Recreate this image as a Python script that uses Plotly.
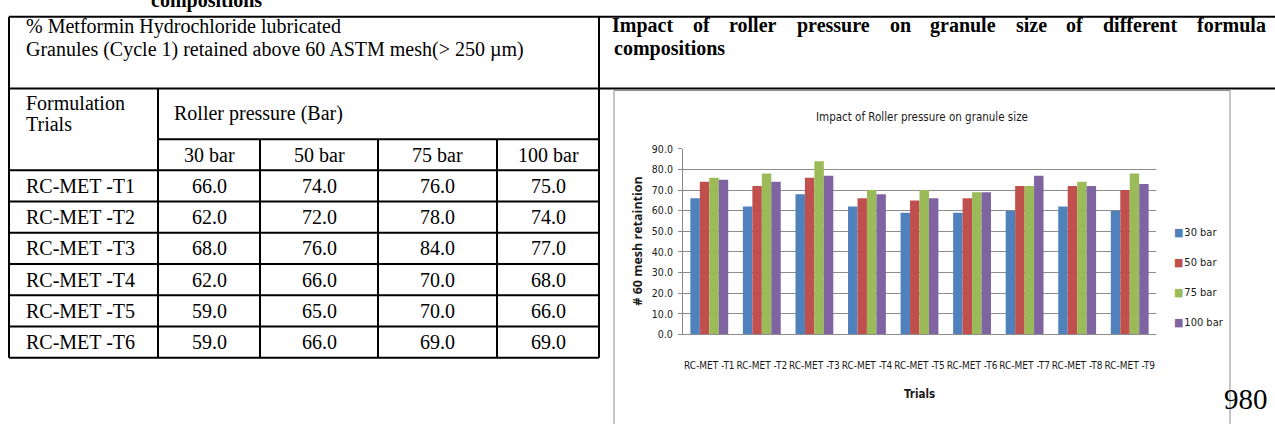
import plotly.graph_objects as go

# ---- data -------------------------------------------------------------
trials = ["RC-MET -T1", "RC-MET -T2", "RC-MET -T3", "RC-MET -T4", "RC-MET -T5",
          "RC-MET -T6", "RC-MET -T7", "RC-MET -T8", "RC-MET -T9"]
pressures = ["30 bar", "50 bar", "75 bar", "100 bar"]
ret_30 = [66.0, 62.0, 68.0, 62.0, 59.0, 59.0, 60.0, 62.0, 60.0]
ret_50 = [74.0, 72.0, 76.0, 66.0, 65.0, 66.0, 72.0, 72.0, 70.0]
ret_75 = [76.0, 78.0, 84.0, 70.0, 70.0, 69.0, 72.0, 74.0, 78.0]
ret_100 = [75.0, 74.0, 77.0, 68.0, 66.0, 69.0, 77.0, 72.0, 73.0]
series = [ret_30, ret_50, ret_75, ret_100]
bar_colors = ["#4F81BD", "#C0504D", "#9BBB59", "#8064A2"]
y_ticks = [0, 10, 20, 30, 40, 50, 60, 70, 80, 90]
table_rows = 6  # trials listed in the side table

W, H = 1275, 425
SERIF = "Liberation Serif, Times New Roman, serif"
NARROW = "DejaVu Sans Condensed, Liberation Sans Narrow, Arial Narrow, sans-serif"


def X(x):
    return x / W


def Y(y):
    return 1 - y / H


shapes = []
annotations = []


def line(x0, y0, x1, y1, color="black", width=2):
    shapes.append(dict(type="line", xref="paper", yref="paper",
                       x0=X(x0), y0=Y(y0), x1=X(x1), y1=Y(y1),
                       line=dict(color=color, width=width)))


def text(x, y, s, size=20, family=SERIF, anchor="left", color="black", bold=False, angle=0):
    if bold:
        s = "<b>" + s + "</b>"
    annotations.append(dict(xref="paper", yref="paper", x=X(x), y=Y(y), text=s,
                            showarrow=False, xanchor=anchor, yanchor="middle",
                            textangle=angle,
                            font=dict(family=family, size=size, color=color)))


# ---- page table frame --------------------------------------------------
TOP, HEAD, BOT = 11, 85, 362
LEFT, MID = 9, 599
line(LEFT, TOP, W + 5, TOP)
line(LEFT, HEAD, W + 5, HEAD)
line(LEFT, TOP, LEFT, BOT)
line(MID, TOP, MID, BOT)
line(LEFT, BOT, MID, BOT)

# inner table grid
col_x = [158, 260, 378, 497, MID]
sub_top = 137
row_h = (BOT - sub_top) / (table_rows + 1)
sub_bot = sub_top + row_h
line(col_x[0], HEAD, col_x[0], BOT)
line(col_x[0], sub_top, MID, sub_top)
for k in range(table_rows):
    line(LEFT, sub_bot + k * row_h, MID, sub_bot + k * row_h)
for cx in col_x[1:-1]:
    line(cx, sub_top, cx, BOT)

# heading cut at the top edge of the page
text(206, -6, "compositions", size=20, anchor="center", bold=True)

# left heading cell
text(24, 21, "% Metformin Hydrochloride lubricated")
text(24, 45, "Granules (Cycle 1) retained above 60 ASTM mesh(&gt; 250 \u00b5m)")

# inner table header
text(24, 100, "Formulation")
text(24, 121, "Trials")
text(172, 111, "Roller pressure (Bar)")
for j, p in enumerate(pressures):
    text((col_x[j] + col_x[j + 1]) / 2, (sub_top + sub_bot) / 2, p, anchor="center")

# inner table body
for i in range(table_rows):
    yc = sub_bot + (i + 0.5) * row_h
    text(24, yc, trials[i])
    for j, vals in enumerate(series):
        text((col_x[j] + col_x[j + 1]) / 2, yc, f"{vals[i]:.1f}", anchor="center")

# right heading cell: justified bold line plus the wrapped word
words = ["Impact", "of", "roller", "pressure", "on", "granule", "size", "of",
         "different", "formula"]
# Times-Bold advance widths (per 1000 em)
adv = {"I": 389, "m": 833, "p": 556, "a": 500, "c": 444, "t": 333, "o": 500,
       "f": 333, "r": 444, "l": 278, "e": 444, "s": 389, "u": 556, "n": 556,
       "g": 500, "i": 278, "z": 444, "d": 556}
HSIZE = 20
widths = [sum(adv[ch] for ch in w) / 1000 * HSIZE for w in words]
jx0, jx1 = 612, 1266
gap = (jx1 - jx0 - sum(widths)) / (len(words) - 1)
cx = jx0
for w, wd in zip(words, widths):
    text(cx + wd / 2, 20, w, size=HSIZE, anchor="center", bold=True)
    cx += wd + gap
text(612, 44, "compositions", size=HSIZE, bold=True)

# ---- embedded chart ----------------------------------------------------
GRAY = "#8c8c8c"
line(614, 87, 1230, 87, color=GRAY, width=1)
line(614, 87, 614, H + 5, color=GRAY, width=1)
line(1230, 87, 1230, H + 5, color=GRAY, width=1)

PX0, PX1, PY_TOP, PY_BOT = 683, 1156, 147, 338

fig = go.Figure()
for name, vals, col in zip(pressures, series, bar_colors):
    fig.add_trace(go.Bar(x=trials, y=vals, name=name, marker_color=col,
                         marker_line_width=0, showlegend=False))

text(922, 114, "Impact of Roller pressure on granule size", size=11.5, family=NARROW,
     anchor="center", color="#1a1a1a")
text(638, (PY_TOP + PY_BOT) / 2, "# 60 mesh retaintion", size=12.5,
     family="Open Sans, DejaVu Sans, sans-serif", anchor="center", bold=True,
     color="#1a1a1a", angle=-90)
text(919, 399, "Trials", size=11.5, family=NARROW, anchor="center", bold=True,
     color="#1a1a1a")

# legend entries
for i, (name, col) in enumerate(zip(pressures, bar_colors)):
    text(1172, 233 + 31 * i,
         f"<span style='color:{col}'>\u25a0</span>\u200a{name}",
         size=11, family=NARROW, color="#1a1a1a")

# page number at the lower right
text(1270, 404, "980", size=29, anchor="right")

fig.update_layout(
    width=W, height=H,
    margin=dict(l=0, r=0, t=0, b=0),
    paper_bgcolor="white", plot_bgcolor="white",
    barmode="group", bargap=0.28, bargroupgap=0,
    showlegend=False,
    shapes=shapes, annotations=annotations,
    xaxis=dict(domain=[X(PX0), X(PX1)], type="category", tickangle=0,
               showline=True, linecolor=GRAY, linewidth=1, showgrid=False,
               ticks="", ticklabelstandoff=22,
               tickfont=dict(family=NARROW, size=10, color="#1a1a1a")),
    yaxis=dict(domain=[Y(PY_BOT), Y(PY_TOP)], range=[0, 90], tickvals=y_ticks,
               tickformat=".1f", showgrid=True, gridcolor=GRAY, gridwidth=1,
               zeroline=False, showline=True, linecolor=GRAY, linewidth=1,
               ticks="outside", ticklen=4, tickcolor=GRAY, ticklabelstandoff=3,
               tickfont=dict(family=NARROW, size=10.5, color="#1a1a1a")),
)

fig.write_html("out.html")
